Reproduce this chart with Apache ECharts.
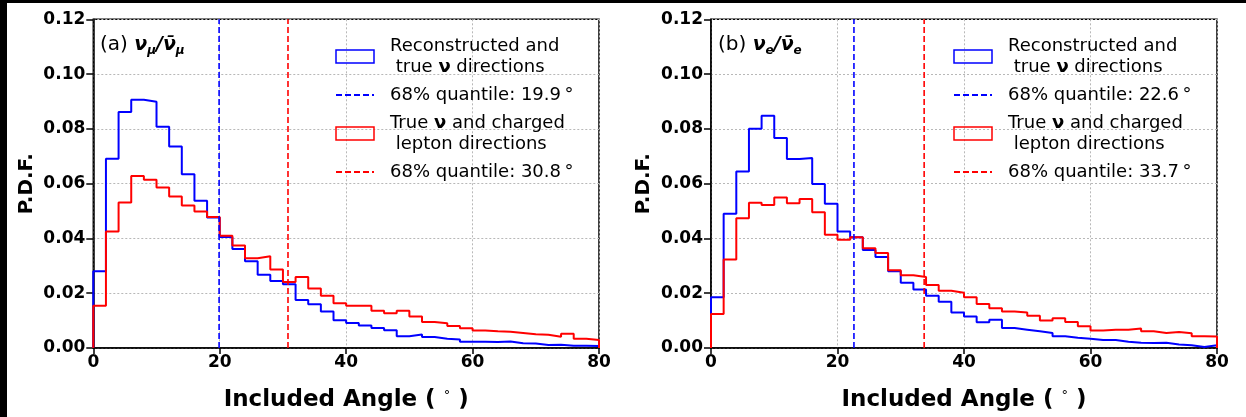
<!DOCTYPE html>
<html><head><meta charset="utf-8">
<script src="https://cdn.jsdelivr.net/npm/echarts/dist/echarts.min.js"></script>
<style>
html,body{margin:0;padding:0;background:#000;width:1246px;height:417px;overflow:hidden}
#c{position:absolute;left:7px;top:3px;width:1239px;height:414px;background:#fff}
</style></head><body><div id="c"></div>
<script>
// ---------- data ----------
const binEdges = [0,2,4,6,8,10,12,14,16,18,20,22,24,26,28,30,32,34,36,38,40,42,44,46,48,50,52,54,56,58,60,62,64,66,68,70,72,74,76,78,80];
const xTicks = [0, 20, 40, 60, 80];
const yTicks = [0.00, 0.02, 0.04, 0.06, 0.08, 0.10, 0.12];

// panel (a): nu_mu
const aReco = [0.0280,0.0691,0.0862,0.0906,0.0899,0.0808,0.0736,0.0634,0.0538,0.0476,
               0.0405,0.0361,0.0317,0.0267,0.0245,0.0233,0.0175,0.0160,0.0133,0.0101,
               0.0091,0.0082,0.0073,0.0065,0.0043,0.0049,0.0040,0.0034,0.0031,0.0023,
               0.0023,0.0022,0.0024,0.0017,0.0016,0.0011,0.0012,0.0008,0.0008,0.0007];
const aLep  = [0.0154,0.0425,0.0531,0.0628,0.0614,0.0586,0.0553,0.0520,0.0498,0.0478,
               0.0410,0.0374,0.0328,0.0335,0.0287,0.0241,0.0259,0.0217,0.0191,0.0163,
               0.0154,0.0154,0.0136,0.0127,0.0136,0.0115,0.0095,0.0090,0.0080,0.0072,
               0.0064,0.0061,0.0059,0.0055,0.0050,0.0048,0.0041,0.0052,0.0034,0.0029];
const aQuantReco = 19.9;
const aQuantLep = 30.8;

// panel (b): nu_e
const bReco = [0.0185,0.0490,0.0644,0.0800,0.0848,0.0767,0.0690,0.0694,0.0599,0.0527,
               0.0425,0.0404,0.0358,0.0332,0.0280,0.0238,0.0214,0.0191,0.0169,0.0130,
               0.0115,0.0094,0.0103,0.0073,0.0067,0.0061,0.0055,0.0043,0.0037,0.0034,
               0.0029,0.0029,0.0023,0.0019,0.0018,0.0019,0.0013,0.0010,0.0004,0.0010];
const bLep  = [0.0124,0.0323,0.0474,0.0530,0.0522,0.0549,0.0528,0.0544,0.0496,0.0413,
               0.0395,0.0404,0.0364,0.0347,0.0284,0.0266,0.0259,0.0230,0.0209,0.0202,
               0.0185,0.0161,0.0145,0.0133,0.0130,0.0118,0.0100,0.0109,0.0095,0.0079,
               0.0064,0.0067,0.0067,0.0071,0.0061,0.0055,0.0058,0.0054,0.0043,0.0042];
const bQuantReco = 22.6;
const bQuantLep = 33.7;

const nameReco = 'Reconstructed and\n true ν directions';
const nameLep = 'True ν and charged\n lepton directions';
const quantLabel = v => '68% quantile: ' + v.toFixed(1) + '\u2009°';

// ---------- styling ----------
const BLUE = '#0000ff', RED = '#ff0000';
const FONT = 'DejaVu Sans';
const yRange = [yTicks[0], yTicks[yTicks.length - 1]];

function stepData(vals) {
  const d = [[binEdges[0], 0]];
  for (let i = 0; i < vals.length; i++) d.push([binEdges[i], vals[i]]);
  d.push([binEdges[binEdges.length - 1], vals[vals.length - 1]]);
  d.push([binEdges[binEdges.length - 1], 0]);
  return d;
}
function vline(x) { return [[x, yRange[0]], [x, yRange[1]]]; }

function xAxisOpt(idx) {
  return {
    gridIndex: idx, type: 'value', min: xTicks[0], max: xTicks[xTicks.length - 1],
    interval: xTicks[1] - xTicks[0],
    name: 'Included Angle ( {d|°} )', nameLocation: 'middle', nameGap: 41,
    nameTextStyle: { fontFamily: FONT, fontWeight: 'bold', fontSize: 23, color: '#000',
      rich: { d: { fontFamily: FONT, fontSize: 13, fontWeight: 'normal', color: '#000', verticalAlign: 'top', lineHeight: 14 } } },
    axisLine: { show: true, lineStyle: { color: '#000', width: 1.5 } },
    axisTick: { show: true, inside: false, length: 6, lineStyle: { color: '#000', width: 1.5 } },
    axisLabel: { fontFamily: FONT, fontWeight: 'bold', fontSize: 17, color: '#000', margin: 6 },
    splitLine: { show: true, lineStyle: { color: '#b8b8b8', width: 1, type: [2, 2] } }
  };
}
function yAxisOpt(idx) {
  return {
    gridIndex: idx, type: 'value', min: yRange[0], max: yRange[1], interval: yTicks[1] - yTicks[0],
    name: 'P.D.F.', nameLocation: 'middle', nameGap: 57, nameRotate: 90,
    nameTextStyle: { fontFamily: FONT, fontWeight: 'bold', fontSize: 20, color: '#000' },
    axisLine: { show: true, lineStyle: { color: '#000', width: 1.5 } },
    axisTick: { show: true, inside: false, length: 7, lineStyle: { color: '#000', width: 1.5 } },
    axisLabel: { fontFamily: FONT, fontWeight: 'bold', fontSize: 17, color: '#000', margin: 8,
      formatter: v => v.toFixed(2) },
    splitLine: { show: true, lineStyle: { color: '#b8b8b8', width: 1, type: [2, 2] } }
  };
}
function histSeries(name, vals, color, idx, z) {
  return { type: 'line', name, data: stepData(vals), step: 'end', symbol: 'none',
    xAxisIndex: idx, yAxisIndex: idx, lineStyle: { color, width: 2 }, itemStyle: { color },
    z, animation: false, silent: true };
}
function quantSeries(name, x, color, idx) {
  return { type: 'line', name, data: vline(x), symbol: 'none', xAxisIndex: idx, yAxisIndex: idx,
    lineStyle: { color, width: 1.6, type: [6, 3] }, itemStyle: { color }, z: 5,
    animation: false, silent: true };
}
function legendOpt(left, qReco, qLep) {
  return {
    orient: 'vertical', left, top: 32.5, padding: 0, itemGap: 7,
    itemWidth: 38, itemHeight: 13, selectedMode: false,
    textStyle: { fontFamily: FONT, fontSize: 18, color: '#000', lineHeight: 21, padding: [0, 0, 0, 11],
      rich: { b: { fontFamily: FONT, fontSize: 18, fontWeight: 'bold', color: '#000', lineHeight: 21 } } },
    formatter: n => n.replace(/ν/g, '{b|ν}'),
    data: [
      { name: nameReco, icon: 'rect', itemStyle: { color: 'rgba(0,0,0,0)', borderColor: BLUE, borderWidth: 1.5 } },
      { name: quantLabel(qReco), itemStyle: { opacity: 0 } },
      { name: nameLep, icon: 'rect', itemStyle: { color: 'rgba(0,0,0,0)', borderColor: RED, borderWidth: 1.5 } },
      { name: quantLabel(qLep), itemStyle: { opacity: 0 } }
    ]
  };
}
function panelTitle(left, tag, sub) {
  return {
    left, top: 30, padding: 0,
    text: '{a|(' + tag + ') }{v|ν}{s|' + sub + '}{v|/ν̄}{s|' + sub + '}',
    textStyle: { fontWeight: 'normal', rich: {
      a: { fontFamily: FONT, fontSize: 20, fontWeight: 'normal', color: '#000', lineHeight: 24 },
      v: { fontFamily: FONT, fontSize: 19, fontWeight: 'bold', fontStyle: 'italic', color: '#000', lineHeight: 24 },
      s: { fontFamily: FONT, fontSize: 12, fontWeight: 'bold', fontStyle: 'italic', color: '#000', lineHeight: 12, verticalAlign: 'bottom' }
    } }
  };
}

const chart = echarts.init(document.getElementById('c'), null, { renderer: 'canvas' });
chart.setOption({
  animation: false,
  backgroundColor: '#fff',
  title: [panelTitle(93, 'a', 'μ'), panelTitle(711, 'b', 'e')],
  grid: [
    { left: 86.3, top: 16.3, width: 505.7, height: 333, show: true, borderColor: '#000', borderWidth: 1.5, backgroundColor: 'rgba(0,0,0,0)' },
    { left: 704, top: 16.3, width: 506, height: 333, show: true, borderColor: '#000', borderWidth: 1.5, backgroundColor: 'rgba(0,0,0,0)' }
  ],
  xAxis: [xAxisOpt(0), xAxisOpt(1)],
  yAxis: [yAxisOpt(0), yAxisOpt(1)],
  legend: [legendOpt(328, aQuantReco, aQuantLep), legendOpt(946, bQuantReco, bQuantLep)],
  series: [
    histSeries(nameReco, aReco, BLUE, 0, 3),
    histSeries(nameLep, aLep, RED, 0, 4),
    quantSeries(quantLabel(aQuantReco), aQuantReco, BLUE, 0),
    quantSeries(quantLabel(aQuantLep), aQuantLep, RED, 0),
    histSeries(nameReco, bReco, BLUE, 1, 3),
    histSeries(nameLep, bLep, RED, 1, 4),
    quantSeries(quantLabel(bQuantReco), bQuantReco, BLUE, 1),
    quantSeries(quantLabel(bQuantLep), bQuantLep, RED, 1)
  ]
});
</script></body></html>
